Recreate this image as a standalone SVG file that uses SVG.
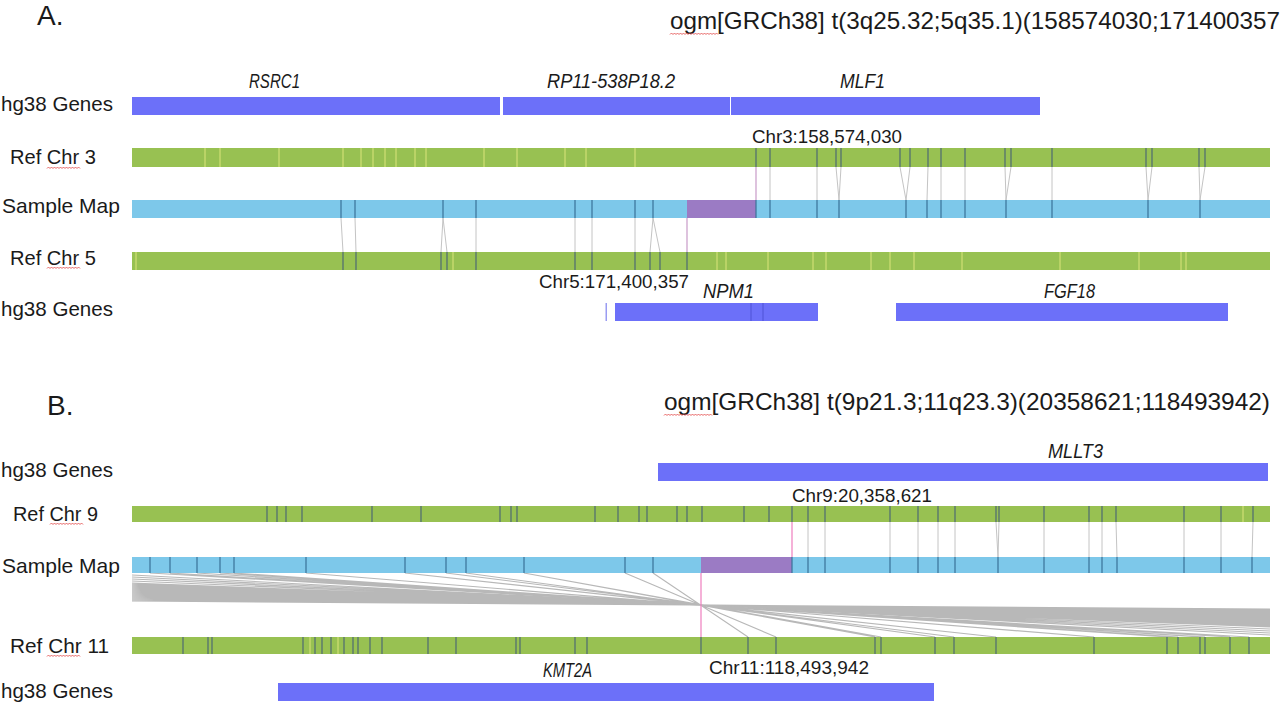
<svg xmlns="http://www.w3.org/2000/svg" xmlns:xlink="http://www.w3.org/1999/xlink" width="1280" height="706" viewBox="0 0 1280 706">
<style>
text{font-family:"Liberation Sans",Arial,sans-serif;fill:#1a1a1a}
.lbl{font-size:21px}
.gl{font-size:20px;font-style:italic}
.cl{font-size:18.5px}
.ttl{font-size:24px}
.pl{font-size:28px}
.gene{fill:#6c70f9}
.chr{fill:#98c152}
.smp{fill:#7dc8ea}
.pur{fill:#9b7bc4}
.tk{stroke:#4e6b73;stroke-width:1.2;fill:none}
.tks{stroke:#3a7298;stroke-width:1.2;fill:none}
.ty{stroke:#dbe57a;stroke-width:1;fill:none}
.tg{stroke:#4f52d6;stroke-width:1;fill:none}
.al{stroke:#c4c4c4;stroke-width:1;fill:none}
.fan{stroke:#b8b8b8;stroke-width:1.1;fill:none}
.pkA{stroke:#c99bc8;stroke-width:1.2;fill:none}
.pkB{stroke:#ee7fbf;stroke-width:1.2;fill:none}
.sq{stroke:#e04040;stroke-width:0.8;fill:none}
</style>
<defs>
<path id="sq33" class="sq" d="M0 1.5l1.5-1.5l1.5 1.5l1.5-1.5l1.5 1.5l1.5-1.5l1.5 1.5l1.5-1.5l1.5 1.5l1.5-1.5l1.5 1.5l1.5-1.5l1.5 1.5l1.5-1.5l1.5 1.5l1.5-1.5l1.5 1.5l1.5-1.5l1.5 1.5l1.5-1.5l1.5 1.5l1.5-1.5l1.5 1.5"/>
<path id="sq48" class="sq" d="M0 1.5l1.5-1.5l1.5 1.5l1.5-1.5l1.5 1.5l1.5-1.5l1.5 1.5l1.5-1.5l1.5 1.5l1.5-1.5l1.5 1.5l1.5-1.5l1.5 1.5l1.5-1.5l1.5 1.5l1.5-1.5l1.5 1.5l1.5-1.5l1.5 1.5l1.5-1.5l1.5 1.5l1.5-1.5l1.5 1.5l1.5-1.5l1.5 1.5l1.5-1.5l1.5 1.5l1.5-1.5l1.5 1.5l1.5-1.5l1.5 1.5l1.5-1.5l1.5 1.5"/>
</defs>
<rect width="1280" height="706" fill="#ffffff"/>

<!-- connectors -->
<g id="connectors">
<path class="al" d="M770 167L770 200M817 167L817 200M836 167L839 200M841 167L839 200M900 167L906 200M910 167L906 200M928 167L927 200M941 167L941 200M965 167L965 200M1005 167L1006 200M1011 167L1006 200M1052 167L1052 200M1146 167L1148 200M1152 167L1148 200M1199 167L1200 200M1205 167L1200 200"/>
<path class="al" d="M341 218L343 252M355 218L356 252M443 218L441 252M443 218L447 252M476 218L476 252M575 218L575 252M592 218L592 252M635 218L635 252M653 218L650 252M653 218L660 252"/>
<path class="pkA" d="M756 167V200M687 218V252"/>
<path class="al" d="M808 522L808 557M825 522L825 557M890 522L890 557M918 522L918 557M938 522L938 557M955 522L955 557M996 522L998 557M999 522L998 557M1044 522L1044 557M1089 522L1089 557M1102 522L1102 557M1116 522L1117 557M1184 522L1184 557M1221 522L1221 557M1253 522L1252 557"/>
<path class="fan" d="M132 575L1270 635M132 577L1270 633M132 579L1270 631M132 581L1270 629M132 583L1270 627M132 584L1270 626M132 585L1270 625M132 586L1270 624M132 587L1270 623M132 588L1270 622M132 589L1270 621M132 590L1270 620M132 591L1270 619M132 592L1270 618M132 593L1270 617M132 594L1270 616M132 595L1270 615M132 596L1270 614M132 597L1270 613M132 598L1270 612M132 599L1270 611M132 600L1270 610M132 601L1270 609"/>
<path class="fan" d="M653 573L748 637M625 573L776 637M524 573L875 637M524 573L881 637M466 573L935 637M446 573L954 637M405 573L996 637M306 573L1094 637M234 573L1167 637M220 573L1178 637M197 573L1200 637M197 573L1205 637M170 573L1230 637M150 573L1249 637"/>
<path class="pkB" d="M792 522V557M701 573V637"/>
</g>

<!-- Panel A -->
<g id="panelA-header">
<text class="pl" x="37" y="25">A.</text>
<text class="ttl" x="670" y="29" textLength="610" lengthAdjust="spacingAndGlyphs">ogm[GRCh38] t(3q25.32;5q35.1)(158574030;171400357</text>
<use xlink:href="#sq48" x="670" y="33"/>
</g>

<g id="A-genes-top">
<text class="lbl" x="1" y="111" textLength="112" lengthAdjust="spacingAndGlyphs">hg38 Genes</text>
<rect class="gene" x="132" y="97" width="368" height="18"/>
<rect class="gene" x="503" y="97" width="227" height="18"/>
<rect class="gene" x="731" y="97" width="309" height="18"/>
<text class="gl" x="249" y="88" textLength="51" lengthAdjust="spacingAndGlyphs">RSRC1</text>
<text class="gl" x="547" y="88" textLength="128" lengthAdjust="spacingAndGlyphs">RP11-538P18.2</text>
<text class="gl" x="840" y="88" textLength="45" lengthAdjust="spacingAndGlyphs">MLF1</text>
</g>

<g id="A-chr3">
<text class="lbl" x="10" y="164" textLength="86" lengthAdjust="spacingAndGlyphs">Ref Chr 3</text>
<use xlink:href="#sq33" x="47" y="167"/>
<rect class="chr" x="132" y="148" width="1138" height="19"/>
<path class="ty" d="M205 148v19M220 148v19M279 148v19M343 148v19M361 148v19M373 148v19M385 148v19M396 148v19M415 148v19M426 148v19M484 148v19M517 148v19M565 148v19M586 148v19M635 148v19"/>
<path class="tk" d="M756 148v19M770 148v19M817 148v19M836 148v19M841 148v19M900 148v19M910 148v19M928 148v19M941 148v19M965 148v19M1005 148v19M1011 148v19M1052 148v19M1146 148v19M1152 148v19M1199 148v19M1205 148v19"/>
<text class="cl" x="752" y="143" textLength="150" lengthAdjust="spacingAndGlyphs">Chr3:158,574,030</text>
</g>

<g id="A-sample">
<text class="lbl" x="2" y="213" textLength="118" lengthAdjust="spacingAndGlyphs">Sample Map</text>
<rect class="smp" x="132" y="200" width="1138" height="18"/>
<rect class="pur" x="687" y="200" width="69" height="18"/>
<path class="tks" d="M341 200v18M355 200v18M443 200v18M476 200v18M575 200v18M592 200v18M635 200v18M653 200v18M756 200v18M770 200v18M817 200v18M839 200v18M906 200v18M927 200v18M941 200v18M965 200v18M1006 200v18M1052 200v18M1148 200v18M1200 200v18"/>
</g>

<g id="A-chr5">
<text class="lbl" x="10" y="265" textLength="86" lengthAdjust="spacingAndGlyphs">Ref Chr 5</text>
<use xlink:href="#sq33" x="47" y="267"/>
<rect class="chr" x="132" y="252" width="1138" height="18"/>
<path class="ty" d="M136 252v18M453 252v18M717 252v18M726 252v18M768 252v18M813 252v18M826 252v18M871 252v18M890 252v18M914 252v18M962 252v18M1060 252v18M1139 252v18M1181 252v18M1186 252v18"/>
<path class="tk" d="M343 252v18M356 252v18M441 252v18M447 252v18M476 252v18M575 252v18M592 252v18M635 252v18M650 252v18M660 252v18M687 252v18"/>
<text class="cl" x="539" y="288" textLength="150" lengthAdjust="spacingAndGlyphs">Chr5:171,400,357</text>
</g>

<g id="A-genes-bottom">
<text class="lbl" x="1" y="316" textLength="112" lengthAdjust="spacingAndGlyphs">hg38 Genes</text>
<rect x="605.5" y="303" width="1.5" height="18" fill="#9a9cf2"/>
<rect class="gene" x="615" y="303" width="203" height="18"/>
<path class="tg" d="M751 303v18M763 303v18"/>
<rect class="gene" x="896" y="303" width="332" height="18"/>
<text class="gl" x="703" y="298" textLength="51" lengthAdjust="spacingAndGlyphs">NPM1</text>
<text class="gl" x="1044" y="298" textLength="51" lengthAdjust="spacingAndGlyphs">FGF18</text>
</g>

<!-- Panel B -->
<g id="panelB-header">
<text class="pl" x="47" y="415">B.</text>
<text class="ttl" x="664" y="410" textLength="606" lengthAdjust="spacingAndGlyphs">ogm[GRCh38] t(9p21.3;11q23.3)(20358621;118493942)</text>
<use xlink:href="#sq48" x="664" y="414"/>
</g>

<g id="B-genes-top">
<text class="lbl" x="1" y="477" textLength="112" lengthAdjust="spacingAndGlyphs">hg38 Genes</text>
<rect class="gene" x="658" y="463" width="610" height="18"/>
<text class="gl" x="1048" y="458" textLength="55" lengthAdjust="spacingAndGlyphs">MLLT3</text>
</g>

<g id="B-chr9">
<text class="lbl" x="13" y="521" textLength="85" lengthAdjust="spacingAndGlyphs">Ref Chr 9</text>
<use xlink:href="#sq33" x="50" y="523"/>
<rect class="chr" x="132" y="506" width="1138" height="16"/>
<path class="ty" d="M1243 506v16"/>
<path class="tk" d="M267 506v16M277 506v16M286 506v16M302 506v16M372 506v16M421 506v16M500 506v16M511 506v16M517 506v16M595 506v16M618 506v16M639 506v16M647 506v16M677 506v16M687 506v16M702 506v16M744 506v16M769 506v16M792 506v16M808 506v16M825 506v16M890 506v16M918 506v16M938 506v16M955 506v16M996 506v16M999 506v16M1044 506v16M1089 506v16M1102 506v16M1116 506v16M1184 506v16M1221 506v16M1253 506v16"/>
<text class="cl" x="792" y="502" textLength="140" lengthAdjust="spacingAndGlyphs">Chr9:20,358,621</text>
</g>

<g id="B-sample">
<text class="lbl" x="2" y="573" textLength="118" lengthAdjust="spacingAndGlyphs">Sample Map</text>
<rect class="smp" x="132" y="557" width="1138" height="16"/>
<rect class="pur" x="701" y="557" width="91" height="16"/>
<path class="tks" d="M150 557v16M170 557v16M197 557v16M220 557v16M234 557v16M306 557v16M405 557v16M446 557v16M466 557v16M524 557v16M625 557v16M653 557v16M792 557v16M808 557v16M825 557v16M890 557v16M918 557v16M938 557v16M955 557v16M998 557v16M1044 557v16M1089 557v16M1102 557v16M1117 557v16M1184 557v16M1221 557v16M1252 557v16"/>
</g>

<g id="B-chr11">
<text class="lbl" x="10" y="653" textLength="99" lengthAdjust="spacingAndGlyphs">Ref Chr 11</text>
<use xlink:href="#sq33" x="47" y="655"/>
<rect class="chr" x="132" y="637" width="1138" height="17"/>
<path class="ty" d="M310 637v17M338 637v17"/>
<path class="tk" d="M183 637v17M208 637v17M212 637v17M303 637v17M315 637v17M322 637v17M331 637v17M344 637v17M353 637v17M358 637v17M370 637v17M382 637v17M428 637v17M456 637v17M516 637v17M520 637v17M575 637v17M587 637v17M701 637v17M748 637v17M776 637v17M875 637v17M881 637v17M935 637v17M954 637v17M996 637v17M1094 637v17M1167 637v17M1178 637v17M1200 637v17M1205 637v17M1230 637v17M1249 637v17"/>
<text class="cl" x="709" y="674" textLength="160" lengthAdjust="spacingAndGlyphs">Chr11:118,493,942</text>
</g>

<g id="B-genes-bottom">
<text class="lbl" x="1" y="698" textLength="112" lengthAdjust="spacingAndGlyphs">hg38 Genes</text>
<rect class="gene" x="278" y="683" width="656" height="18"/>
<text class="gl" x="543" y="677" textLength="49" lengthAdjust="spacingAndGlyphs">KMT2A</text>
</g>
</svg>
